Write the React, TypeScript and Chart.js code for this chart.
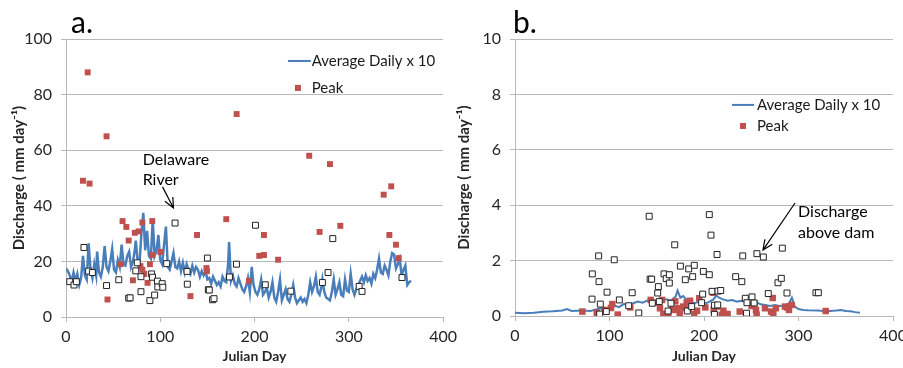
import React, { useEffect, useRef } from "react";
import { Chart, registerables } from "chart.js";

Chart.register(...registerables);

// ---------- Panel a: Delaware River ----------
const leftAvgDays = [0, 2, 4, 6, 8, 10, 12, 14, 16, 18, 20, 22, 24, 26, 28, 30, 32, 33, 35, 37, 39, 41, 43, 45, 47, 49, 51, 53, 55, 57, 59, 61, 63, 65, 67, 69, 71, 73, 74, 76, 78, 80, 82, 84, 86, 88, 90, 92, 94, 96, 98, 100, 102, 104, 106, 108, 110, 112, 114, 116, 118, 120, 122, 124, 126, 128, 130, 132, 134, 136, 138, 140, 142, 144, 146, 148, 150, 152, 154, 156, 158, 160, 162, 164, 166, 168, 170, 172, 173, 175, 177, 179, 181, 183, 185, 187, 189, 191, 193, 195, 197, 199, 201, 203, 205, 207, 209, 211, 213, 215, 217, 219, 221, 223, 225, 227, 229, 231, 233, 235, 237, 239, 241, 243, 245, 247, 249, 251, 253, 255, 257, 259, 261, 263, 265, 267, 269, 271, 272, 274, 276, 278, 280, 282, 284, 286, 288, 290, 292, 294, 296, 298, 300, 302, 304, 306, 308, 310, 312, 314, 316, 318, 320, 322, 324, 326, 328, 330, 332, 334, 336, 338, 340, 342, 344, 346, 348, 350, 352, 354, 356, 358, 360, 362, 364, 366];
const leftAvgValues = [17.5, 16.5, 15, 12.5, 16, 13, 15.5, 11.5, 14, 22, 15, 13.5, 26.5, 17, 14, 19, 15, 23.5, 16, 14.5, 18, 25.5, 18, 16.5, 20, 24.5, 17, 16, 20.5, 18, 26, 19, 18.5, 22, 23.5, 18, 20, 24, 27.5, 20, 19.5, 30, 37.5, 24, 31, 22, 21, 35, 22, 24, 29.5, 20.5, 19, 26, 32.5, 18, 17, 20, 23, 18, 17.5, 20, 16.5, 19.5, 16, 19, 17, 15.5, 18.5, 16, 18, 17, 14.5, 16.5, 15, 16.5, 13.5, 14, 12, 14.5, 13, 11.5, 12.5, 11, 14.5, 13, 12.5, 19, 27, 13, 15, 12, 11, 14, 12, 10, 9, 11, 14, 9, 18, 11.5, 9, 8, 10, 13.5, 8, 9, 10.5, 7, 9, 12.5, 7, 5.5, 9, 13.5, 6, 8, 10, 6.5, 5.5, 8, 11.5, 7, 5, 6, 7, 5.5, 6.5, 5, 8, 12.5, 9, 11, 14.5, 9, 8, 11, 13.5, 9, 7, 6.5, 6, 9, 13.5, 8, 10, 12.5, 8, 7.5, 13.5, 9.5, 9, 15.5, 10, 8, 10, 11.5, 13, 14.5, 12.5, 15, 13, 14, 12, 15.5, 14, 17, 21, 16, 15.5, 18.5, 17, 15, 20, 23, 22.5, 17.5, 19, 21, 15, 17, 18.5, 11.5, 12.5, 13];

const leftPeakDays = [18, 23, 25, 43, 44, 58, 60, 64, 66.5, 71, 73, 77, 79, 81, 81, 83, 86.5, 89, 91.5, 91.5, 100, 132, 139, 149, 149.5, 170, 181, 194, 205, 210, 210, 225, 258, 269, 280, 291, 337, 343, 345, 350, 353];
const leftPeakValues = [49, 88, 48, 65, 6.3, 19, 34.5, 32.4, 27.5, 13.2, 30.3, 30.8, 18.3, 17, 34, 15.5, 12.3, 19, 34.5, 22.3, 23.4, 7.5, 29.5, 17.6, 16.5, 35.2, 73, 13, 22, 22.3, 29.5, 20.6, 58, 30.6, 55, 32.8, 44, 29.5, 47, 26, 21.2];

const leftOpenDays = [4, 8.5, 11, 19, 24, 28, 43, 56, 66.5, 68, 74, 75.6, 79.5, 79.5, 89, 90.8, 91.8, 94, 97, 97.4, 102, 102.7, 106.8, 115.7, 128.4, 128.7, 150, 151, 152, 155.5, 157, 173.4, 180.8, 201, 211.4, 238.5, 272, 278, 283, 311, 314, 356.4];
const leftOpenValues = [12.7, 11.5, 12.7, 25, 16.5, 16, 11.3, 13.4, 6.8, 6.9, 16.6, 19.5, 14.5, 9.1, 5.9, 15.5, 14.3, 7.9, 12.9, 10.8, 12, 10.7, 19.2, 33.8, 16.4, 11.8, 21.2, 9.8, 9.7, 6.2, 6.6, 14.4, 19, 33, 11.6, 9.3, 12.4, 16, 28.2, 11, 9.2, 14.2];

const leftYTicks = [0, 20, 40, 60, 80, 100];

// ---------- Panel b: above dam ----------
const rightAvgDays = [0, 10, 20, 30, 40, 50, 55, 60, 70, 80, 90, 95, 100, 105, 110, 115, 120, 125, 130, 135, 140, 145, 150, 155, 160, 165, 170, 172, 175, 178, 182, 186, 190, 195, 200, 205, 210, 213, 216, 220, 225, 230, 235, 240, 245, 250, 255, 260, 265, 270, 275, 280, 285, 290, 293, 296, 300, 305, 310, 320, 330, 340, 345, 350, 355, 360, 365];
const rightAvgValues = [0.12, 0.1, 0.12, 0.15, 0.17, 0.2, 0.25, 0.18, 0.2, 0.18, 0.28, 0.22, 0.3, 0.38, 0.32, 0.43, 0.42, 0.46, 0.52, 0.48, 0.56, 0.5, 0.58, 0.55, 0.6, 0.55, 0.7, 0.92, 0.66, 0.72, 0.56, 0.52, 0.46, 0.52, 0.44, 0.5, 0.6, 0.74, 0.66, 0.6, 0.55, 0.58, 0.52, 0.55, 0.5, 0.48, 0.5, 0.42, 0.4, 0.36, 0.4, 0.36, 0.38, 0.45, 0.66, 0.34, 0.25, 0.22, 0.21, 0.2, 0.17, 0.2, 0.22, 0.18, 0.17, 0.14, 0.12];

const rightPeakDays = [71.3, 86.5, 94.9, 101.6, 103, 108.7, 122, 143.6, 149.6, 153.4, 155.6, 157, 162.3, 166, 169.6, 171, 172, 174.3, 178, 179.2, 181.7, 183.8, 185.2, 189.7, 195, 192.6, 201.4, 209.5, 210.3, 213.8, 218.7, 220.5, 222.5, 225, 237.8, 250.4, 253.6, 255, 255.7, 264.5, 272.7, 271, 273.3, 276, 285.7, 288, 289.9, 292.8, 328.8];
const rightPeakValues = [0.16, 0.12, 0.22, 0.29, 0.43, 0.05, 0.31, 0.58, 0.48, 0.28, 0.58, 0.08, 0.07, 0.22, 0.53, 0.22, 0.28, 0.07, 0.34, 0.29, 0.49, 0.25, 0.55, 0.07, 0.64, 0.19, 0.31, 0.84, 0.22, 0.34, 0.04, 0.19, 0.07, 0.07, 0.16, 0.36, 0.46, 0.22, 0.05, 0.28, 0.65, 0.16, 0.07, 0.28, 0.34, 0.31, 0.22, 0.4, 0.18];

const rightOpenDays = [142, 205.6, 207.4, 169, 88.5, 105, 213.8, 241, 256, 262.8, 282.9, 81.8, 88.9, 81.5, 90.3, 89.6, 97.4, 96.6, 110.4, 124, 120.3, 131, 143, 144.6, 145.3, 151.7, 151, 152.7, 157.7, 160, 163.3, 163.3, 165, 162, 175, 183.8, 189.7, 180.2, 188, 182.3, 187, 199.3, 205.6, 198.6, 197.5, 208.5, 211, 211, 214.8, 217.7, 214.5, 233.5, 240, 243.7, 245.5, 250.8, 245, 253, 268, 278.3, 281.8, 287.8, 318.5, 321];
const rightOpenValues = [3.6, 3.66, 2.92, 2.57, 2.17, 2.03, 2.22, 2.17, 2.25, 2.13, 2.45, 1.52, 1.24, 0.61, 0.43, 0.07, 0.86, 0.16, 0.58, 0.84, 0.37, 0.11, 1.33, 1.33, 0.46, 1.06, 0.83, 0.52, 1.52, 1.35, 1.49, 1.19, 0.46, 0.18, 1.8, 1.7, 1.83, 1.31, 1.42, 0.18, 0.34, 1.61, 1.49, 0.79, 0.48, 0.89, 0.39, 0.06, 0.9, 0.92, 0.4, 1.42, 1.24, 0.64, 0.48, 0.69, 0.1, 0.47, 0.81, 1.2, 1.36, 0.83, 0.84, 0.84];

const rightYTicks = [0, 2, 4, 6, 8, 10];

const xTicks = [0, 100, 200, 300, 400];

const legendLabels = ["Average Daily x 10", "Peak"];
const yTitle = "Discharge ( mm day\u207B\u00B9)";
const xTitle = "Julian Day";

const BLUE = "#4a7ebb";
const RED = "#c0504d";
const GRID = "#b8b8b8";
const FONT = "Lato, 'Open Sans', sans-serif";

type Overlay = {
  panel: string;
  panelAt: [number, number];
  legendLine: [number, number, number];
  legendPeak: [number, number];
  legendTextX: number;
  legendLineY: number;
  notes: { text: string; x: number; y: number }[];
  arrow: [number, number, number, number];
};

type PanelCfg = {
  width: number;
  left: number;
  yMax: number;
  yStep: number;
  yTicks: number[];
  yWidth: number;
  xHeight: number;
  padRight: number;
  yTitlePad: number;
  avgDays: number[];
  avgValues: number[];
  peakDays: number[];
  peakValues: number[];
  openDays: number[];
  openValues: number[];
  lineWidth: number;
  peakRadius: number;
  overlay: Overlay;
};

function drawArrow(ctx: CanvasRenderingContext2D, x1: number, y1: number, x2: number, y2: number) {
  ctx.beginPath();
  ctx.moveTo(x1, y1);
  ctx.lineTo(x2, y2);
  const ang = Math.atan2(y2 - y1, x2 - x1);
  const len = 11;
  const spread = 0.42;
  ctx.moveTo(x2 - len * Math.cos(ang - spread), y2 - len * Math.sin(ang - spread));
  ctx.lineTo(x2, y2);
  ctx.lineTo(x2 - len * Math.cos(ang + spread), y2 - len * Math.sin(ang + spread));
  ctx.stroke();
}

function makeOverlay(o: Overlay, key: string) {
  return {
    id: "overlay_" + key,
    afterDraw(chart: any) {
      const { ctx } = chart;
      const xs = chart.scales.x;
      const ys = chart.scales.y;
      const px = (v: number) => xs.getPixelForValue(v);
      const py = (v: number) => ys.getPixelForValue(v);
      ctx.save();
      // panel label
      ctx.fillStyle = "#000";
      ctx.font = `30px ${FONT}`;
      ctx.textAlign = "left";
      ctx.textBaseline = "alphabetic";
      ctx.fillText(o.panel, px(o.panelAt[0]), py(o.panelAt[1]));
      // legend
      ctx.strokeStyle = BLUE;
      ctx.lineWidth = 2;
      ctx.beginPath();
      ctx.moveTo(px(o.legendLine[0]), py(o.legendLineY));
      ctx.lineTo(px(o.legendLine[1]), py(o.legendLineY));
      ctx.stroke();
      ctx.fillStyle = RED;
      const mx = px(o.legendPeak[0]);
      const my = py(o.legendPeak[1]);
      ctx.fillRect(mx - 3, my - 3, 6, 6);
      ctx.fillStyle = "#1a1a1a";
      ctx.font = `15px ${FONT}`;
      ctx.textBaseline = "middle";
      ctx.fillText(legendLabels[0], px(o.legendTextX), py(o.legendLineY));
      ctx.fillText(legendLabels[1], px(o.legendTextX), my);
      // notes
      ctx.font = `16px ${FONT}`;
      ctx.fillStyle = "#000";
      for (const n of o.notes) ctx.fillText(n.text, px(n.x), py(n.y));
      ctx.strokeStyle = "#000";
      ctx.lineWidth = 1.2;
      drawArrow(ctx, px(o.arrow[0]), py(o.arrow[1]), px(o.arrow[2]), py(o.arrow[3]));
      ctx.restore();
    },
  };
}

function Panel({ cfg, id }: { cfg: PanelCfg; id: string }) {
  const ref = useRef<HTMLCanvasElement | null>(null);
  useEffect(() => {
    if (!ref.current) return;
    const chart = new Chart(ref.current, {
      type: "scatter",
      data: {
        datasets: [
          {
            label: legendLabels[0],
            data: cfg.avgDays.map((d, i) => ({ x: d, y: cfg.avgValues[i] })),
            showLine: true,
            borderColor: BLUE,
            backgroundColor: BLUE,
            borderWidth: cfg.lineWidth,
            pointRadius: 0,
            tension: 0,
            order: 3,
          },
          {
            label: legendLabels[1],
            data: cfg.peakDays.map((d, i) => ({ x: d, y: cfg.peakValues[i] })),
            pointStyle: "rect",
            pointRadius: cfg.peakRadius,
            backgroundColor: RED,
            borderColor: RED,
            borderWidth: 0,
            order: 2,
          },
          {
            label: "other",
            data: cfg.openDays.map((d, i) => ({ x: d, y: cfg.openValues[i] })),
            pointStyle: "rect",
            pointRadius: 4.2,
            backgroundColor: "#ffffff",
            borderColor: "#222222",
            borderWidth: 1,
            order: 1,
          },
        ],
      } as any,
      options: {
        animation: false,
        responsive: false,
        events: [],
        layout: { padding: { top: 39, right: cfg.padRight, left: 0, bottom: 0 } },
        plugins: { legend: { display: false }, tooltip: { enabled: false } },
        scales: {
          x: {
            type: "linear",
            min: 0,
            max: 400,
            afterBuildTicks: (s: any) => {
              s.ticks = xTicks.map((v) => ({ value: v }));
            },
            afterFit: (s: any) => {
              s.height = cfg.xHeight;
            },
            grid: { drawOnChartArea: false, drawTicks: true, tickLength: 5, color: GRID },
            border: { color: GRID },
            ticks: { color: "#262626", font: { family: FONT, size: 16 }, padding: 5, maxRotation: 0 },
            title: {
              display: true,
              text: xTitle,
              color: "#262626",
              font: { family: FONT, size: 14, weight: "bold" },
              padding: { top: 0, bottom: 3 },
            },
          },
          y: {
            type: "linear",
            min: 0,
            max: cfg.yMax,
            afterBuildTicks: (s: any) => {
              s.ticks = cfg.yTicks.map((v) => ({ value: v }));
            },
            afterFit: (s: any) => {
              s.width = cfg.yWidth;
            },
            grid: { color: GRID, tickLength: 5 },
            border: { color: GRID },
            ticks: { color: "#262626", font: { family: FONT, size: 16 }, padding: 9 },
            title: {
              display: true,
              text: yTitle,
              color: "#262626",
              font: { family: FONT, size: 15, weight: "bold" },
              padding: { top: cfg.yTitlePad, bottom: 0 },
            },
          },
        },
      } as any,
      plugins: [makeOverlay(cfg.overlay, id)],
    });
    return () => chart.destroy();
  }, [cfg, id]);
  return (
    <div style={{ position: "absolute", left: cfg.left, top: 0, width: cfg.width, height: 368 }}>
      <canvas ref={ref} width={cfg.width} height={368} style={{ display: "block" }} />
    </div>
  );
}

const leftCfg: PanelCfg = {
  width: 462,
  left: 0,
  yMax: 100,
  yStep: 20,
  yTicks: leftYTicks,
  yWidth: 66,
  xHeight: 51,
  padRight: 17,
  yTitlePad: 10,
  avgDays: leftAvgDays,
  avgValues: leftAvgValues,
  peakDays: leftPeakDays,
  peakValues: leftPeakValues,
  openDays: leftOpenDays,
  openValues: leftOpenValues,
  lineWidth: 2.5,
  peakRadius: 4.2,
  overlay: {
    panel: "a.",
    panelAt: [5.3, 102.2],
    legendLine: [235.4, 259.7, 0],
    legendLineY: 92.1,
    legendPeak: [246, 82.4],
    legendTextX: 260.7,
    notes: [
      { text: "Delaware", x: 81.3, y: 56.5 },
      { text: "River", x: 81.3, y: 49.3 },
    ],
    arrow: [102.4, 46.8, 114, 39.2],
  },
};

const rightCfg: PanelCfg = {
  width: 470,
  left: 450,
  yMax: 10,
  yStep: 2,
  yTicks: rightYTicks,
  yWidth: 65,
  xHeight: 52,
  padRight: 27,
  yTitlePad: 5,
  avgDays: rightAvgDays,
  avgValues: rightAvgValues,
  peakDays: rightPeakDays,
  peakValues: rightPeakValues,
  openDays: rightOpenDays,
  openValues: rightOpenValues,
  lineWidth: 2,
  peakRadius: 4.6,
  overlay: {
    panel: "b.",
    panelAt: [-2.1, 10.2],
    legendLine: [229.6, 252.9, 0],
    legendLineY: 7.62,
    legendPeak: [241.3, 6.86],
    legendTextX: 256,
    notes: [
      { text: "Discharge", x: 299.5, y: 3.75 },
      { text: "above dam", x: 299.5, y: 3.0 },
    ],
    arrow: [296.3, 4.08, 262.4, 2.38],
  },
};

export default function App() {
  return (
    <div
      style={{
        position: "absolute",
        left: 0,
        top: 0,
        width: 903,
        height: 368,
        overflow: "hidden",
        background: "#ffffff",
      }}
    >
      <Panel cfg={leftCfg} id="a" />
      <Panel cfg={rightCfg} id="b" />
    </div>
  );
}
